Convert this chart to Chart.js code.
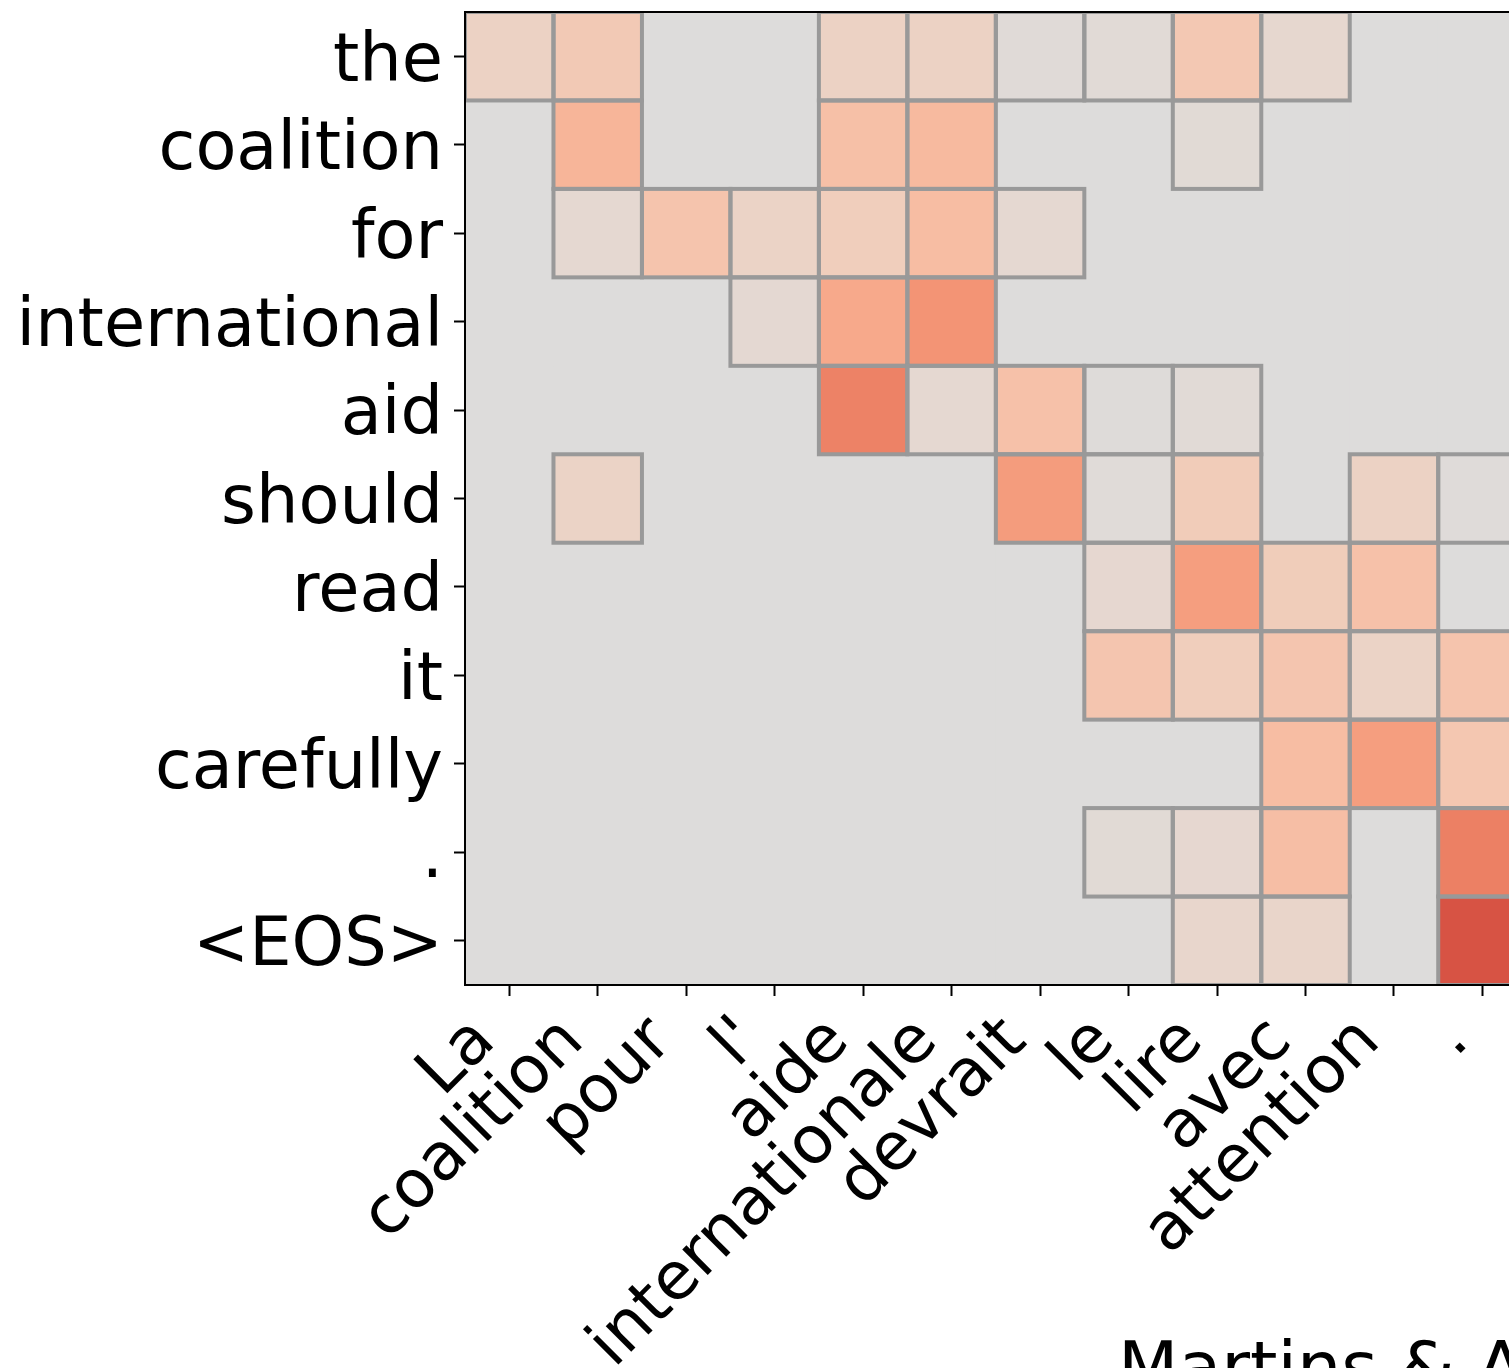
<!DOCTYPE html>
<html>
<head>
<meta charset="utf-8">
<title>Sparse attention: the coalition for international aid</title>
<script src="https://cdn.jsdelivr.net/npm/chart.js@4.4.1/dist/chart.umd.min.js"></script>
<style>
  html, body { margin: 0; padding: 0; background: #ffffff; overflow: hidden; }
  #wrap { position: relative; width: 1509px; height: 1368px; }
</style>
</head>
<body>
<div id="wrap"><canvas id="attn" width="1509" height="1368"></canvas></div>
<script>
// Target (English) words, one per row, top to bottom
const targetTokens = ['the', 'coalition', 'for', 'international', 'aid', 'should',
                      'read', 'it', 'carefully', '.', '<EOS>'];
// Source (French) words, one per column, left to right
const sourceTokens = ['La', 'coalition', 'pour', "l'", 'aide', 'internationale',
                      'devrait', 'le', 'lire', 'avec', 'attention', '.'];

// Attention weights of each target word over the source words (0 = exactly zero)
const rowThe           = [0.13, 0.21, 0,    0,     0.13, 0.13, 0.025, 0.03,  0.22,  0.075, 0,    0];
const rowCoalition     = [0,    0.35, 0,    0,     0.28, 0.32, 0,     0,     0.035, 0,     0,    0];
const rowFor           = [0,    0.065,0.25, 0.12,  0.17, 0.30, 0.06,  0,     0,     0,     0,    0];
const rowInternational = [0,    0,    0,    0.055, 0.42, 0.53, 0,     0,     0,     0,     0,    0];
const rowAid           = [0,    0,    0,    0,     0.61, 0.06, 0.27,  0.01,  0.03,  0,     0,    0];
const rowShould        = [0,    0.12, 0,    0,     0,    0,    0.49,  0.02,  0.19,  0,     0.13, 0.015];
const rowRead          = [0,    0,    0,    0,     0,    0,    0,     0.07,  0.48,  0.18,  0.27, 0];
const rowIt            = [0,    0,    0,    0,     0,    0,    0,     0.24,  0.17,  0.24,  0.12, 0.25];
const rowCarefully     = [0,    0,    0,    0,     0,    0,    0,     0,     0,     0.30,  0.48, 0.23];
const rowPeriod        = [0,    0,    0,    0,     0,    0,    0,     0.035, 0.07,  0.29,  0,    0.62];
const rowEos           = [0,    0,    0,    0,     0,    0,    0,     0,     0.09,  0.10,  0,    0.80];

const attention = [rowThe, rowCoalition, rowFor, rowInternational, rowAid, rowShould,
                   rowRead, rowIt, rowCarefully, rowPeriod, rowEos];

const panelLabel = 'Martins & Astudillo (2016)';

// Upper (warm) half of the coolwarm colour map, weight 0 -> 1
const warmStops = [
  [221,220,219],[229,216,209],[236,211,197],[241,204,185],[245,196,173],[247,187,160],
  [247,177,148],[247,166,135],[244,154,123],[241,141,111],[236,127,99],[229,112,88],
  [222,96,77],[213,80,66],[203,62,56],[192,40,47],[180,4,38]
];
function weightColor(w) {
  const t = Math.max(0, Math.min(1, w)) * (warmStops.length - 1);
  const i = Math.min(Math.floor(t), warmStops.length - 2);
  const f = t - i;
  const a = warmStops[i], b = warmStops[i + 1];
  const c = a.map((v, k) => Math.round(v + (b[k] - v) * f));
  return `rgb(${c[0]},${c[1]},${c[2]})`;
}

const ZERO_COLOR = 'rgb(221,220,219)';
const EDGE_COLOR = '#999999';
const FONT = '"DejaVu Sans", "Liberation Sans", sans-serif';

// One floating-bar dataset per target word; each bar spans one cell of the grid
const datasets = targetTokens.map((tok, r) => ({
  label: tok,
  data: sourceTokens.map((src, c) => ({ x: c, y: [r - 0.5, r + 0.5] })),
  backgroundColor: attention[r].map(w => (w > 0 ? weightColor(w) : ZERO_COLOR)),
  borderWidth: 0,
  grouped: false,
  barPercentage: 1,
  categoryPercentage: 1
}));

// Grey fill behind the cells, edges around non-zero cells, top frame line and panel caption
const heatmapDecor = {
  id: 'heatmapDecor',
  beforeDatasetsDraw(chart) {
    const { ctx, chartArea: a } = chart;
    ctx.save();
    ctx.fillStyle = ZERO_COLOR;
    ctx.fillRect(a.left, a.top, a.right - a.left, a.bottom - a.top);
    ctx.restore();
  },
  afterDatasetsDraw(chart) {
    const { ctx, chartArea: a } = chart;
    ctx.save();
    ctx.beginPath();
    ctx.rect(a.left, a.top, a.right - a.left, a.bottom - a.top);
    ctx.clip();
    ctx.strokeStyle = EDGE_COLOR;
    ctx.lineWidth = 4;
    ctx.lineJoin = 'miter';
    attention.forEach((row, r) => {
      const meta = chart.getDatasetMeta(r);
      meta.data.forEach((bar, c) => {
        if (!(row[c] > 0)) return;
        const p = bar.getProps(['x', 'y', 'base', 'width'], true);
        const top = Math.min(p.y, p.base);
        ctx.strokeRect(p.x - p.width / 2, top, p.width, Math.abs(p.base - p.y));
      });
    });
    ctx.restore();
  },
  afterDraw(chart) {
    const { ctx, chartArea: a } = chart;
    ctx.save();
    ctx.strokeStyle = '#000000';
    ctx.lineWidth = 2;
    ctx.beginPath();
    ctx.moveTo(a.left - 1, a.top);
    ctx.lineTo(a.right + 1, a.top);
    ctx.stroke();
    ctx.fillStyle = '#000000';
    ctx.font = '70px ' + FONT;
    ctx.textAlign = 'left';
    ctx.textBaseline = 'alphabetic';
    ctx.fillText(panelLabel, 1118, 1391);
    ctx.restore();
  }
};

// One tick per word, at the centre of its row / column
function wordTicks(words) {
  return axis => { axis.ticks = words.map((w, i) => ({ value: i })); };
}

Chart.defaults.font.family = FONT;

new Chart(document.getElementById('attn'), {
  type: 'bar',
  data: { datasets },
  plugins: [heatmapDecor],
  options: {
    responsive: false,
    maintainAspectRatio: false,
    animation: false,
    events: [],
    layout: { padding: { top: 12, left: 0, right: 0, bottom: 0 } },
    plugins: { legend: { display: false }, tooltip: { enabled: false } },
    scales: {
      x: {
        type: 'linear',
        position: 'bottom',
        offset: false,
        min: -0.5,
        max: 11.3,
        grid: { offset: false, drawOnChartArea: false, drawTicks: true, tickLength: 11, tickWidth: 2, tickColor: '#000000' },
        border: { display: true, color: '#000000', width: 2, z: 1 },
        ticks: {
          autoSkip: false,
          minRotation: 45,
          maxRotation: 45,
          padding: 7,
          labelOffset: -24,
          color: '#000000',
          font: { family: FONT, size: 66 },
          callback: v => (sourceTokens[v] !== undefined ? sourceTokens[v] : '')
        },
        afterBuildTicks: wordTicks(sourceTokens),
        afterFit: s => { s.height = 383; s.paddingLeft = 0; s.paddingRight = 0; }
      },
      y: {
        type: 'linear',
        position: 'left',
        offset: false,
        reverse: true,
        min: -0.5,
        max: 10.5,
        grid: { offset: false, drawOnChartArea: false, drawTicks: true, tickLength: 11, tickWidth: 2, tickColor: '#000000' },
        border: { display: true, color: '#000000', width: 2, z: 1 },
        ticks: {
          autoSkip: false,
          padding: 11,
          labelOffset: 7,
          color: '#000000',
          font: { family: FONT, size: 67 },
          callback: v => (targetTokens[v] !== undefined ? targetTokens[v] : '')
        },
        afterBuildTicks: wordTicks(targetTokens),
        afterFit: s => { s.width = 465; s.paddingTop = 0; s.paddingBottom = 0; }
      }
    }
  }
});
</script>
</body>
</html>
